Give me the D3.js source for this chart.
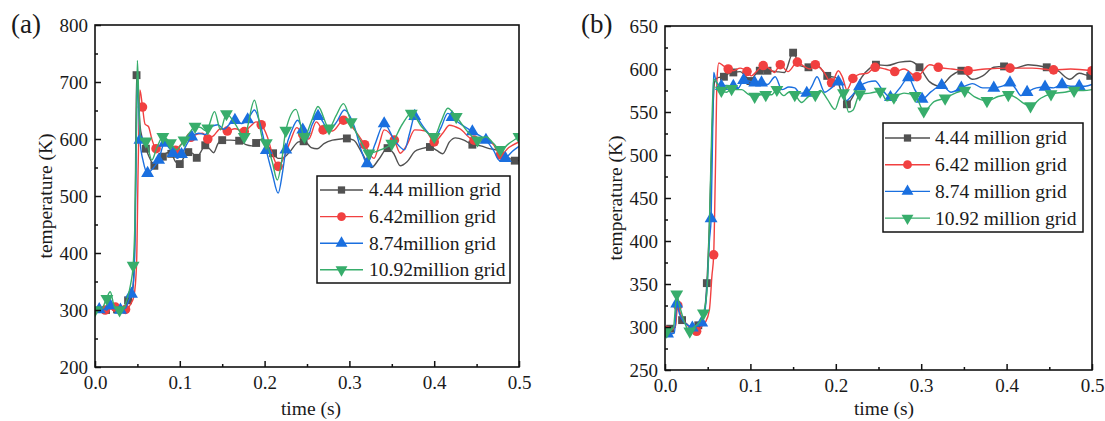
<!DOCTYPE html>
<html><head><meta charset="utf-8">
<script src="https://cdn.jsdelivr.net/npm/d3@7"></script>
<style>
body{margin:0;background:#fff}
svg{display:block}
text{font-family:"Liberation Serif","Times New Roman",serif;fill:#1a1a1a}
</style>
</head><body>
<svg id="c" width="1105" height="421"></svg>
<script>
// ---------- labels ----------
const legendA = ["4.44 million grid", "6.42million grid", "8.74million grid", "10.92million grid"];
const legendB = ["4.44 million grid", "6.42 million grid", "8.74 million grid", "10.92 million grid"];
const xTicks = [0, 0.1, 0.2, 0.3, 0.4, 0.5];
const yTicksA = [200, 300, 400, 500, 600, 700, 800];
const yTicksB = [250, 300, 350, 400, 450, 500, 550, 600, 650];
const colors = ["#515151", "#F14040", "#1A6FDF", "#37AD6B"];

// ---------- panel (a) data: [time (s), temperature (K)] ----------
const lineA444 = [[0,300],[0.01,301],[0.02,302],[0.03,301],[0.036,306],[0.04,317],[0.044,330],[0.047,420],[0.049,712],[0.051,690],[0.053,625],[0.056,600],[0.06,583],[0.065,565],[0.07,553],[0.075,560],[0.08,569],[0.085,576],[0.09,574],[0.095,560],[0.1,556],[0.105,568],[0.11,577],[0.115,575],[0.12,567],[0.125,578],[0.13,589],[0.135,583],[0.14,576],[0.145,592],[0.15,598],[0.16,598],[0.17,597],[0.178,590],[0.185,588],[0.19,593],[0.197,600],[0.203,590],[0.21,575],[0.216,566],[0.222,567],[0.23,578],[0.24,595],[0.247,596],[0.255,585],[0.262,583],[0.27,592],[0.28,598],[0.29,600],[0.297,601],[0.305,598],[0.315,575],[0.326,550],[0.335,565],[0.345,584],[0.352,575],[0.36,553],[0.368,560],[0.377,578],[0.385,583],[0.395,586],[0.403,580],[0.41,574],[0.418,595],[0.425,602],[0.435,598],[0.445,590],[0.455,588],[0.465,583],[0.475,580],[0.485,570],[0.495,562],[0.5,562]];
const markA444 = [[0.013,300],[0.026,301],[0.039,317],[0.049,712],[0.06,583],[0.07,553],[0.08,569],[0.09,574],[0.1,556],[0.11,577],[0.12,567],[0.13,589],[0.15,598],[0.17,597],[0.19,593],[0.21,575],[0.246,596],[0.297,601],[0.345,584],[0.395,586],[0.445,590],[0.495,562]];

const lineA642 = [[0,300],[0.01,300],[0.017,303],[0.022,306],[0.03,300],[0.036,301],[0.042,310],[0.046,325],[0.049,380],[0.051,560],[0.053,686],[0.056,656],[0.059,626],[0.063,622],[0.067,600],[0.072,583],[0.078,588],[0.085,594],[0.09,588],[0.095,580],[0.1,588],[0.106,598],[0.113,603],[0.12,608],[0.127,610],[0.133,600],[0.14,606],[0.148,618],[0.156,614],[0.165,618],[0.176,613],[0.183,622],[0.19,630],[0.196,625],[0.203,605],[0.21,570],[0.216,552],[0.222,565],[0.23,595],[0.238,620],[0.245,608],[0.252,600],[0.261,630],[0.269,616],[0.28,614],[0.293,633],[0.306,616],[0.318,590],[0.329,566],[0.335,590],[0.341,616],[0.353,598],[0.36,575],[0.368,590],[0.377,616],[0.39,614],[0.4,595],[0.41,610],[0.418,624],[0.43,618],[0.447,598],[0.461,598],[0.47,590],[0.478,572],[0.488,585],[0.5,595]];
const markA642 = [[0.012,300],[0.024,305],[0.036,301],[0.056,656],[0.072,583],[0.095,580],[0.113,603],[0.133,600],[0.156,614],[0.176,613],[0.196,625],[0.216,552],[0.245,608],[0.269,616],[0.293,633],[0.318,590],[0.353,598],[0.4,595],[0.447,598],[0.478,572]];

const lineA874 = [[0,300],[0.008,302],[0.014,300],[0.018,308],[0.024,302],[0.03,300],[0.036,303],[0.04,318],[0.043,328],[0.046,360],[0.048,500],[0.05,700],[0.052,640],[0.053,598],[0.057,560],[0.062,540],[0.068,548],[0.075,563],[0.082,593],[0.087,585],[0.092,575],[0.097,566],[0.102,573],[0.108,590],[0.114,604],[0.122,610],[0.13,608],[0.138,622],[0.145,625],[0.152,617],[0.158,625],[0.165,633],[0.173,627],[0.18,634],[0.188,651],[0.195,625],[0.202,580],[0.209,540],[0.216,505],[0.221,540],[0.225,581],[0.232,615],[0.239,633],[0.245,616],[0.25,600],[0.256,625],[0.263,640],[0.276,616],[0.285,630],[0.294,651],[0.306,621],[0.314,580],[0.321,557],[0.33,590],[0.341,627],[0.353,598],[0.365,581],[0.371,610],[0.377,640],[0.388,620],[0.4,601],[0.408,620],[0.416,645],[0.426,632],[0.445,613],[0.461,598],[0.47,580],[0.477,562],[0.484,566],[0.492,578],[0.5,587]];
const markA874 = [[0.005,301],[0.018,308],[0.03,300],[0.043,328],[0.053,598],[0.062,540],[0.075,563],[0.082,593],[0.092,575],[0.102,573],[0.114,604],[0.165,633],[0.18,634],[0.202,580],[0.225,581],[0.245,616],[0.263,640],[0.321,557],[0.341,627],[0.377,640],[0.421,638],[0.445,613],[0.461,598],[0.484,566]];

const lineA1092 = [[0,300],[0.008,302],[0.013,318],[0.018,332],[0.022,310],[0.027,300],[0.032,300],[0.038,320],[0.042,345],[0.045,378],[0.047,450],[0.049,640],[0.05,738],[0.052,650],[0.054,598],[0.06,596],[0.067,563],[0.073,585],[0.08,604],[0.089,593],[0.096,581],[0.105,598],[0.112,612],[0.118,622],[0.125,620],[0.13,615],[0.133,619],[0.141,648],[0.148,616],[0.155,644],[0.165,627],[0.176,604],[0.188,668],[0.198,598],[0.202,593],[0.209,560],[0.215,528],[0.22,560],[0.225,615],[0.237,652],[0.247,604],[0.255,630],[0.263,657],[0.276,619],[0.284,640],[0.293,662],[0.302,630],[0.312,600],[0.323,575],[0.335,580],[0.35,592],[0.362,625],[0.373,645],[0.386,620],[0.4,604],[0.408,630],[0.416,654],[0.426,639],[0.44,612],[0.451,598],[0.461,604],[0.47,592],[0.478,581],[0.488,592],[0.5,604]];
const markA1092 = [[0.0,300],[0.014,320],[0.029,300],[0.045,378],[0.06,596],[0.08,604],[0.089,593],[0.105,598],[0.118,622],[0.133,619],[0.155,644],[0.176,604],[0.202,593],[0.225,615],[0.247,604],[0.276,619],[0.302,630],[0.323,575],[0.35,592],[0.373,645],[0.4,604],[0.426,639],[0.451,598],[0.478,581],[0.5,604]];

// ---------- panel (b) data ----------
const lineB444 = [[0,298],[0.008,298],[0.012,300],[0.014,325],[0.017,318],[0.02,308],[0.025,304],[0.03,300],[0.035,300],[0.04,302],[0.045,310],[0.049,351],[0.052,420],[0.055,520],[0.058,585],[0.062,590],[0.069,591],[0.075,595],[0.08,596],[0.088,597],[0.094,592],[0.1,586],[0.106,594],[0.111,598],[0.12,598],[0.13,597],[0.14,596],[0.15,619],[0.158,604],[0.168,602],[0.178,604],[0.19,592],[0.2,590],[0.206,575],[0.213,559],[0.22,568],[0.23,590],[0.24,601],[0.247,605],[0.26,604],[0.275,608],[0.287,609],[0.298,602],[0.31,585],[0.322,580],[0.335,592],[0.347,598],[0.36,588],[0.372,592],[0.385,602],[0.397,603],[0.41,601],[0.425,605],[0.447,602],[0.46,598],[0.474,588],[0.485,595],[0.498,592],[0.5,592]];
const markB444 = [[0.006,298],[0.02,308],[0.039,302],[0.049,351],[0.069,591],[0.08,596],[0.1,586],[0.111,598],[0.12,598],[0.15,619],[0.168,602],[0.19,592],[0.213,559],[0.247,605],[0.298,602],[0.347,598],[0.397,603],[0.447,602],[0.498,592]];

const lineB642 = [[0,296],[0.008,297],[0.012,300],[0.015,325],[0.018,315],[0.022,307],[0.028,300],[0.033,297],[0.037,295],[0.042,300],[0.047,305],[0.052,320],[0.055,360],[0.057,384],[0.059,480],[0.061,590],[0.063,607],[0.068,604],[0.074,600],[0.08,598],[0.088,601],[0.096,597],[0.101,592],[0.108,598],[0.115,604],[0.123,600],[0.128,596],[0.135,605],[0.144,597],[0.155,608],[0.163,603],[0.17,600],[0.176,605],[0.185,598],[0.195,584],[0.203,598],[0.208,590],[0.213,576],[0.22,589],[0.228,594],[0.237,595],[0.246,602],[0.258,600],[0.269,597],[0.28,600],[0.295,591],[0.31,605],[0.32,602],[0.336,600],[0.355,598],[0.375,600],[0.404,601],[0.43,601],[0.455,599],[0.475,600],[0.5,598]];
const markB642 = [[0.002,296],[0.015,325],[0.037,295],[0.057,384],[0.074,600],[0.096,597],[0.115,604],[0.135,605],[0.155,608],[0.176,605],[0.195,584],[0.22,589],[0.246,602],[0.269,597],[0.295,591],[0.32,602],[0.355,598],[0.404,601],[0.455,599],[0.5,598]];

const lineB874 = [[0,292],[0.005,292],[0.011,293],[0.0137,327],[0.017,315],[0.022,306],[0.027,302],[0.032,299],[0.038,301],[0.043,305],[0.047,320],[0.05,360],[0.052,400],[0.054,426],[0.056,540],[0.057,596],[0.06,585],[0.066,580],[0.072,581],[0.08,580],[0.086,578],[0.092,587],[0.098,586],[0.105,584],[0.113,584],[0.12,582],[0.129,591],[0.137,576],[0.145,579],[0.152,578],[0.158,572],[0.166,572],[0.172,580],[0.178,591],[0.187,573],[0.195,578],[0.203,585],[0.207,583],[0.212,563],[0.218,568],[0.228,580],[0.238,585],[0.246,586],[0.255,575],[0.264,567],[0.275,578],[0.285,590],[0.293,575],[0.301,565],[0.312,574],[0.324,581],[0.335,573],[0.347,578],[0.36,583],[0.372,578],[0.385,578],[0.395,580],[0.404,584],[0.41,578],[0.417,569],[0.424,573],[0.435,578],[0.445,579],[0.455,578],[0.465,582],[0.475,580],[0.485,580],[0.492,580],[0.5,582]];
const markB874 = [[0.003,292],[0.0137,327],[0.032,299],[0.043,305],[0.054,426],[0.066,580],[0.08,580],[0.092,587],[0.105,584],[0.113,584],[0.166,572],[0.203,585],[0.228,580],[0.264,567],[0.285,590],[0.301,565],[0.324,581],[0.347,578],[0.385,578],[0.404,584],[0.424,573],[0.445,579],[0.465,582],[0.485,580]];

const lineB1092 = [[0,295],[0.005,295],[0.01,300],[0.0137,338],[0.017,325],[0.022,308],[0.026,298],[0.029,295],[0.034,300],[0.04,305],[0.045,316],[0.049,340],[0.052,420],[0.055,540],[0.057,588],[0.062,582],[0.066,575],[0.072,573],[0.078,577],[0.084,576],[0.09,576],[0.097,571],[0.105,568],[0.112,570],[0.118,570],[0.125,570],[0.131,576],[0.139,569],[0.145,573],[0.152,570],[0.16,561],[0.168,568],[0.176,570],[0.182,575],[0.19,565],[0.199,553],[0.205,568],[0.209,572],[0.215,550],[0.22,552],[0.228,571],[0.24,572],[0.252,574],[0.26,563],[0.268,567],[0.28,572],[0.293,569],[0.303,551],[0.315,562],[0.328,566],[0.34,572],[0.351,575],[0.362,568],[0.377,563],[0.39,568],[0.402,570],[0.412,566],[0.42,560],[0.428,557],[0.44,566],[0.452,571],[0.468,573],[0.479,575],[0.49,575],[0.5,576]];
const markB1092 = [[0.002,295],[0.0137,338],[0.029,295],[0.045,316],[0.066,575],[0.078,577],[0.105,568],[0.118,570],[0.131,576],[0.152,570],[0.176,570],[0.209,572],[0.228,571],[0.252,574],[0.268,567],[0.293,569],[0.303,551],[0.328,566],[0.351,575],[0.377,563],[0.402,570],[0.428,557],[0.452,571],[0.479,575]];

// ---------- drawing ----------
const svg = d3.select("#c");
const symbols = [d3.symbolSquare, d3.symbolCircle, d3.symbolTriangle, d3.symbolTriangle];
const symSizes = [62, 72, 72, 72];
const symRot = [0, 0, 0, 180];

function drawPanel(cfg) {
  const g = svg.append("g");
  const x = d3.scaleLinear().domain([0, 0.5]).range([cfg.x0, cfg.x1]);
  const y = d3.scaleLinear().domain(cfg.yDomain).range([cfg.y1, cfg.y0]);
  const clipId = "clip" + cfg.id;
  svg.append("clipPath").attr("id", clipId).append("rect")
    .attr("x", cfg.x0).attr("y", cfg.y0).attr("width", cfg.x1 - cfg.x0).attr("height", cfg.y1 - cfg.y0);

  const line = d3.line().x(d => x(d[0])).y(d => y(d[1])).curve(d3.curveMonotoneX);
  const plot = g.append("g").attr("clip-path", `url(#${clipId})`);
  cfg.series.forEach((s, i) => {
    plot.append("path").datum(s.line).attr("d", line)
      .attr("fill", "none").attr("stroke", colors[i]).attr("stroke-width", 1.4);
    plot.selectAll(null).data(s.marks).enter().append("path")
      .attr("d", d3.symbol().type(symbols[i]).size(symSizes[i]))
      .attr("transform", d => `translate(${x(d[0])},${y(d[1])}) rotate(${symRot[i]})`)
      .attr("fill", colors[i]);
  });

  // frame
  g.append("rect").attr("x", cfg.x0).attr("y", cfg.y0)
    .attr("width", cfg.x1 - cfg.x0).attr("height", cfg.y1 - cfg.y0)
    .attr("fill", "none").attr("stroke", "#111").attr("stroke-width", 1.6);

  // axes
  const ax = g.append("g").attr("transform", `translate(0,${cfg.y1})`)
    .call(d3.axisBottom(x).tickValues(xTicks).tickFormat(d3.format(".1f")).tickSize(-6).tickPadding(9));
  const axm = g.append("g").attr("transform", `translate(0,${cfg.y1})`)
    .call(d3.axisBottom(x).tickValues([0.05,0.15,0.25,0.35,0.45]).tickFormat("").tickSize(-3));
  const ay = g.append("g").attr("transform", `translate(${cfg.x0},0)`)
    .call(d3.axisLeft(y).tickValues(cfg.yTicks).tickFormat(d3.format("d")).tickSize(-6).tickPadding(7));
  const aym = g.append("g").attr("transform", `translate(${cfg.x0},0)`)
    .call(d3.axisLeft(y).tickValues(cfg.yMinor).tickFormat("").tickSize(-3));
  [ax, axm, ay, aym].forEach(a => {
    a.select(".domain").remove();
    a.selectAll("line").attr("stroke", "#111").attr("stroke-width", 1.5);
    a.selectAll("text").attr("font-size", 19).attr("fill", "#1a1a1a")
      .style("font-family", '"Liberation Serif","Times New Roman",serif');
  });

  // titles
  g.append("text").attr("x", cfg.xTitleX).attr("y", 415).attr("text-anchor", "middle")
    .attr("font-size", 19.5).text("time (s)");
  g.append("text").attr("transform", `translate(${cfg.yTitleX},${(cfg.y0 + cfg.y1) / 2}) rotate(-90)`)
    .attr("text-anchor", "middle").attr("dy", "0.35em").attr("font-size", 19.5).text("temperature (K)");
  g.append("text").attr("x", cfg.labelX).attr("y", 33).attr("font-size", 27).text(cfg.label);

  // legend
  const L = cfg.legend;
  g.append("rect").attr("x", L.x0).attr("y", L.y0).attr("width", L.x1 - L.x0).attr("height", L.y1 - L.y0)
    .attr("fill", "#fff").attr("stroke", "#111").attr("stroke-width", 1.5);
  L.names.forEach((nm, i) => {
    const cy = L.rowY0 + i * L.rowStep;
    g.append("line").attr("x1", L.lx0).attr("x2", L.lx1).attr("y1", cy).attr("y2", cy)
      .attr("stroke", colors[i]).attr("stroke-width", 1.4);
    g.append("path").attr("d", d3.symbol().type(symbols[i]).size(symSizes[i] * 0.85))
      .attr("transform", `translate(${(L.lx0 + L.lx1) / 2},${cy}) rotate(${symRot[i]})`)
      .attr("fill", colors[i]);
    g.append("text").attr("x", L.tx).attr("y", cy).attr("dy", "0.33em").attr("font-size", 19.5).text(nm);
  });
}

drawPanel({
  id: "a", label: "(a)", labelX: 11, x0: 95, x1: 519, y0: 25, y1: 367,
  yDomain: [200, 800], yTicks: yTicksA, yMinor: [250,350,450,550,650,750],
  xTitleX: 311, yTitleX: 45,
  series: [{line: lineA444, marks: markA444}, {line: lineA642, marks: markA642},
           {line: lineA874, marks: markA874}, {line: lineA1092, marks: markA1092}],
  legend: {names: legendA, x0: 317, x1: 510, y0: 176, y1: 283, rowY0: 190, rowStep: 26.6, lx0: 320, lx1: 363, tx: 369}
});
drawPanel({
  id: "b", label: "(b)", labelX: 581, x0: 665, x1: 1092, y0: 26, y1: 370,
  yDomain: [250, 650], yTicks: yTicksB, yMinor: [275,325,375,425,475,525,575,625],
  xTitleX: 884, yTitleX: 615,
  series: [{line: lineB444, marks: markB444}, {line: lineB642, marks: markB642},
           {line: lineB874, marks: markB874}, {line: lineB1092, marks: markB1092}],
  legend: {names: legendB, x0: 883, x1: 1083, y0: 123, y1: 232, rowY0: 138, rowStep: 26.7, lx0: 885, lx1: 930, tx: 935}
});
</script>
</body></html>
